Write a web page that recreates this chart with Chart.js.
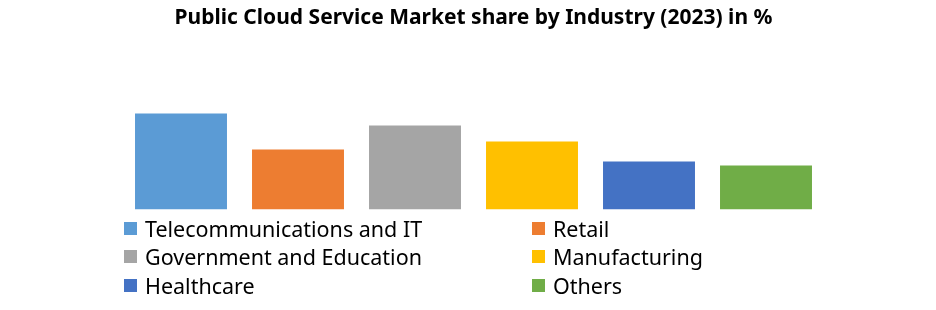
<!DOCTYPE html>
<html>
<head>
<meta charset="utf-8">
<script src="https://cdn.jsdelivr.net/npm/chart.js@4.4.0/dist/chart.umd.min.js"></script>
<style>
  html, body { margin: 0; padding: 0; background: #fff; }
  #wrap { position: relative; width: 936px; height: 310px; }
  #legend {
    position: absolute; left: 124px; top: 214px;
    display: grid; grid-template-columns: 408px 300px; row-gap: 0;
    font-family: "Noto Sans", sans-serif; font-size: 21.5px; color: #000;
  }
  .item { display: flex; align-items: center; height: 28.5px; }
  .box { width: 13px; height: 13px; margin-right: 8px; flex: none; }
</style>
</head>
<body>
<div id="wrap">
  <canvas id="chart" width="936" height="310"></canvas>
  <div id="legend"></div>
</div>
<script>
// === data ===
const industries = ["Telecommunications and IT", "Retail", "Government and Education", "Manufacturing", "Healthcare", "Others"];
const shares = [24, 15, 21, 17, 12, 11];
const colors = ["#5B9BD5", "#ED7D31", "#A5A5A5", "#FFC000", "#4472C4", "#70AD47"];

// === legend ===
const legend = document.getElementById("legend");
industries.forEach((name, i) => {
    const item = document.createElement("div");
    item.className = "item";
    const box = document.createElement("span");
    box.className = "box";
    box.style.background = colors[i];
    const label = document.createElement("span");
    label.textContent = name;
    item.appendChild(box);
    item.appendChild(label);
    legend.appendChild(item);
});

// === chart ===
const ctx = document.getElementById("chart").getContext("2d");
new Chart(ctx, {
    type: "bar",
    data: {
        labels: industries,
        datasets: [{
            data: shares,
            backgroundColor: colors,
            borderWidth: 0,
            barPercentage: 0.786,
            categoryPercentage: 1,
        }],
    },
    options: {
        responsive: false,
        animation: false,
        layout: { padding: { left: 122.5, right: 111.5, bottom: 100.5, top: 0 } },
        scales: {
            x: { display: false },
            y: { display: false, min: 0, max: 30 },
        },
        plugins: {
            legend: { display: false },
            tooltip: { enabled: false },
            title: {
                display: true,
                text: "Public Cloud Service Market share by Industry (2023) in %",
                color: "#000",
                font: { family: "Noto Sans", size: 21, weight: "bold" },
                padding: { top: 5, bottom: 59.3 },
            },
        },
    },
});
</script>
</body>
</html>
